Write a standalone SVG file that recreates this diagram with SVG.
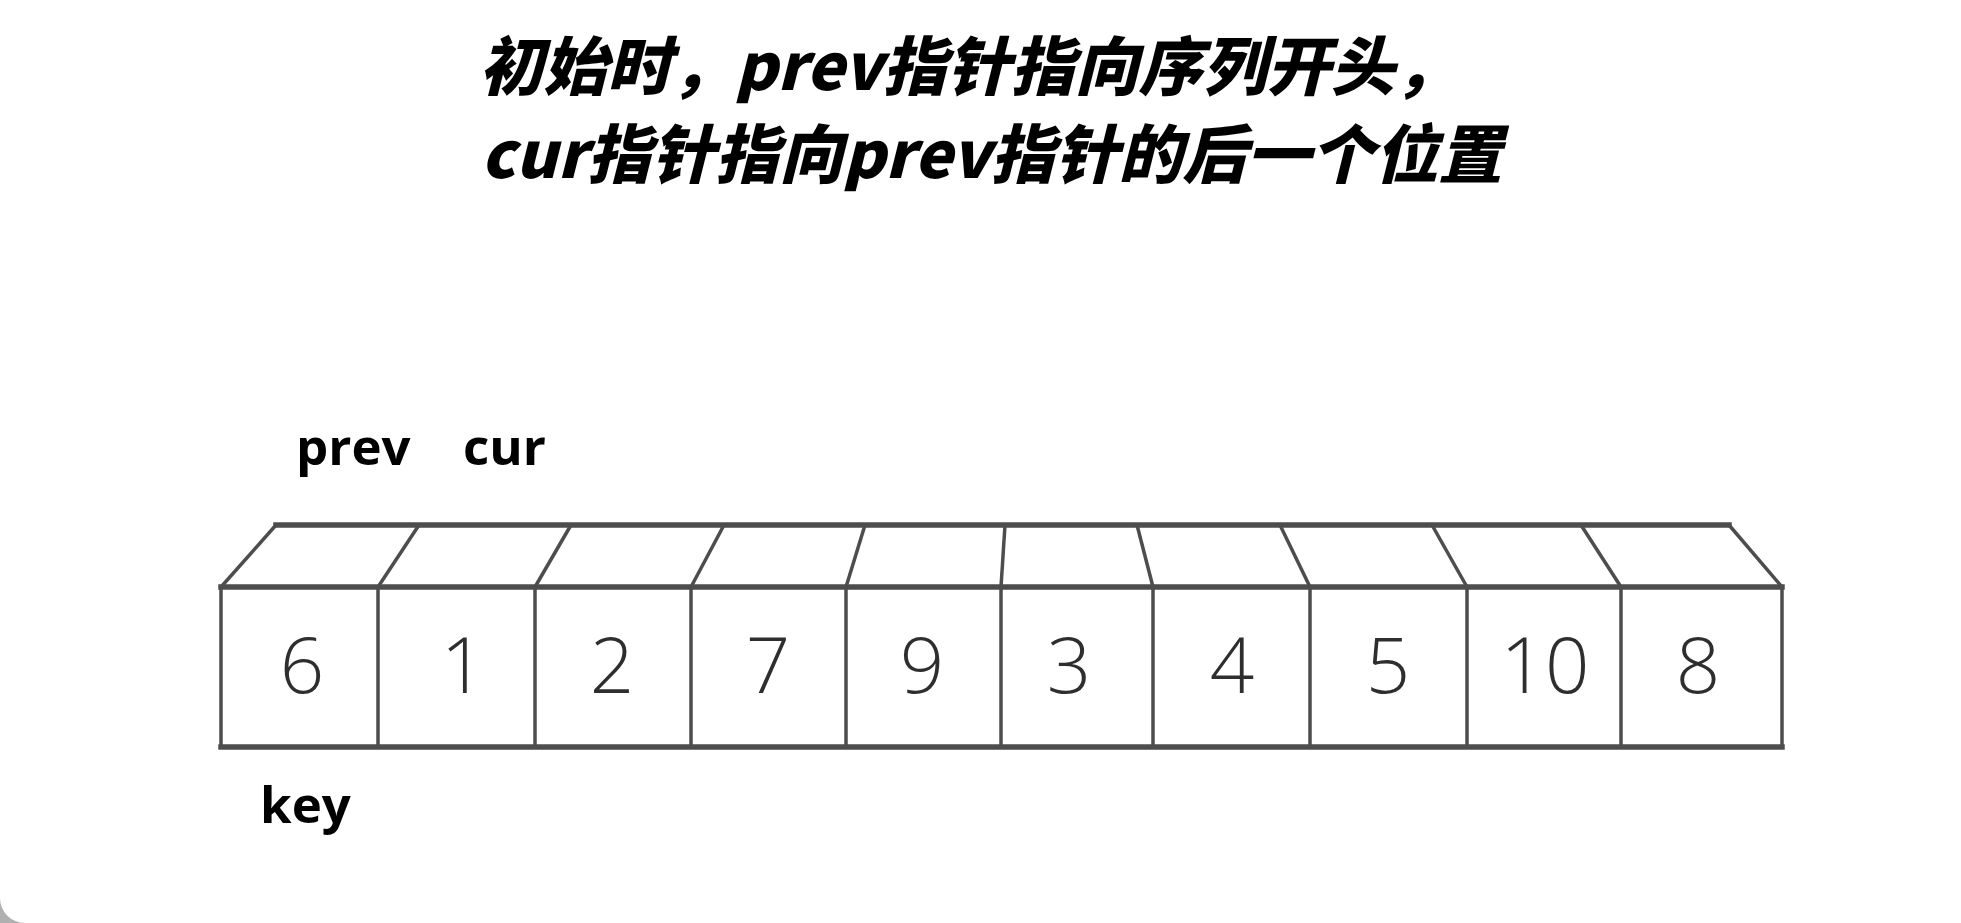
<svg xmlns="http://www.w3.org/2000/svg" width="1961" height="923" viewBox="0 0 1961 923">
<style>
.title{font-family:"Noto Sans CJK SC","Noto Sans",sans-serif;font-weight:900;font-style:italic;font-size:64px;fill:#000}
.lbl{font-family:"Open Sans","Noto Sans",sans-serif;font-weight:700;font-size:51px;fill:#000}
.dig{font-family:"Open Sans","Liberation Sans",sans-serif;font-weight:300;font-size:78px;fill:#2e2e2e;text-anchor:middle}
.h{stroke:#4d4d4d;stroke-width:5.5;fill:none;stroke-linecap:square}
.v{stroke:#4d4d4d;stroke-width:3.5;fill:none}
</style>
<rect width="1961" height="923" fill="#fff"/>
<path d="M0,898 A25,25 0 0 0 25,923 L0,923 Z" fill="#b0b0b0"/>
<g id="title">
<text class="title" x="479" y="90">初始时，prev指针指向序列开头，</text>
<text class="title" x="481" y="178">cur指针指向prev指针的后一个位置</text>
</g>
<g id="labels">
<text id="prev" class="lbl" x="296" y="465">prev</text>
<text id="cur" class="lbl" x="463" y="465">cur</text>
<text id="key" class="lbl" x="260" y="823">key</text>
</g>
<g id="array">
<line class="h" x1="276" y1="525" x2="1729" y2="525"/>
<line class="h" x1="221" y1="587" x2="1782" y2="587"/>
<line class="h" x1="221" y1="747" x2="1782" y2="747"/>
<line class="v" x1="1729" y1="525" x2="1782" y2="587"/>
<line class="v" x1="1782" y1="587" x2="1782" y2="747"/>
<g id="cell0"><line class="v" x1="276" y1="525" x2="221" y2="587"/><line class="v" x1="221" y1="587" x2="221" y2="747"/><text class="dig" x="302" y="693">6</text></g>
<g id="cell1"><line class="v" x1="419" y1="525" x2="378" y2="587"/><line class="v" x1="378" y1="587" x2="378" y2="747"/><text class="dig" x="463" y="693">1</text></g>
<g id="cell2"><line class="v" x1="571" y1="525" x2="535" y2="587"/><line class="v" x1="535" y1="587" x2="535" y2="747"/><text class="dig" x="612" y="693">2</text></g>
<g id="cell3"><line class="v" x1="724" y1="525" x2="691" y2="587"/><line class="v" x1="691" y1="587" x2="691" y2="747"/><text class="dig" x="768" y="693">7</text></g>
<g id="cell4"><line class="v" x1="865" y1="525" x2="846" y2="587"/><line class="v" x1="846" y1="587" x2="846" y2="747"/><text class="dig" x="922" y="693">9</text></g>
<g id="cell5"><line class="v" x1="1005" y1="525" x2="1001" y2="587"/><line class="v" x1="1001" y1="587" x2="1001" y2="747"/><text class="dig" x="1069" y="693">3</text></g>
<g id="cell6"><line class="v" x1="1137" y1="525" x2="1153" y2="587"/><line class="v" x1="1153" y1="587" x2="1153" y2="747"/><text class="dig" x="1232" y="693">4</text></g>
<g id="cell7"><line class="v" x1="1280" y1="525" x2="1310" y2="587"/><line class="v" x1="1310" y1="587" x2="1310" y2="747"/><text class="dig" x="1388" y="693">5</text></g>
<g id="cell8"><line class="v" x1="1432" y1="525" x2="1467" y2="587"/><line class="v" x1="1467" y1="587" x2="1467" y2="747"/><text class="dig" x="1545" y="693">10</text></g>
<g id="cell9"><line class="v" x1="1581" y1="525" x2="1621" y2="587"/><line class="v" x1="1621" y1="587" x2="1621" y2="747"/><text class="dig" x="1698" y="693">8</text></g>
</g>
</svg>
